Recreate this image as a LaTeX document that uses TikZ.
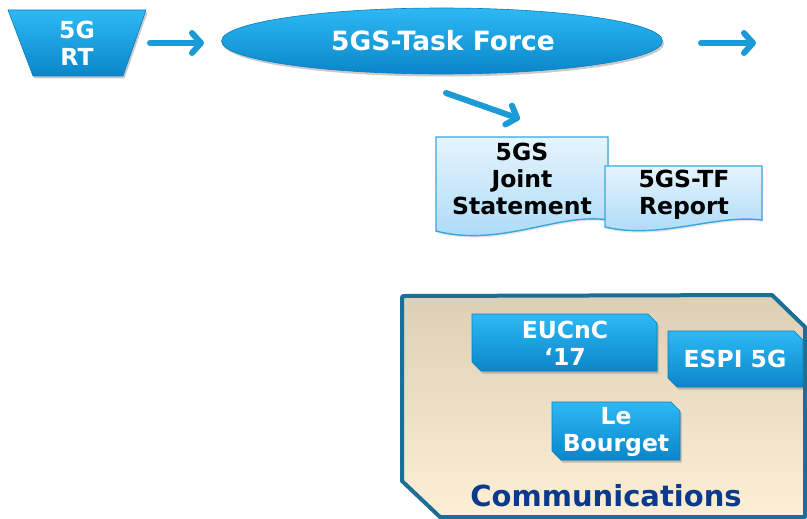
\documentclass[tikz,border=0pt]{standalone}
\usepackage{fontspec}
\setmainfont{DejaVu Sans}
\usetikzlibrary{arrows.meta,shadows,shapes.geometric}
\definecolor{arrowblue}{HTML}{1B9AD6}
\definecolor{btop}{HTML}{2DB9F4}
\definecolor{bbot}{HTML}{0A86CA}
\definecolor{bedge}{HTML}{0B7DBE}
\definecolor{dtop}{HTML}{E6F4FD}
\definecolor{dbot}{HTML}{A6D9F7}
\definecolor{dedge}{HTML}{3AA6E0}
\definecolor{ctop}{HTML}{DCCFB4}
\definecolor{cbot}{HTML}{FCEFD6}
\definecolor{cedge}{HTML}{1B6F96}
\definecolor{ctext}{HTML}{0B3A8C}
\begin{document}
\begin{tikzpicture}[x=1pt,y=-1pt,
  flow/.style={draw=arrowblue, line width=6pt, line cap=round,
    -{Straight Barb[length=9pt,width=20pt,round]}},
  bluefill/.style={top color=btop, bottom color=bbot, draw=bedge, line width=0.6pt,
    drop shadow={shadow xshift=1.5pt, shadow yshift=-2.5pt, opacity=0.35, fill=black!60}},
  docfill/.style={top color=dtop, bottom color=dbot, draw=dedge, line width=1.4pt,
    drop shadow={shadow xshift=1pt, shadow yshift=-2pt, opacity=0.2, fill=black!50}},
  wtext/.style={text=white, font=\bfseries\fontsize{23.5}{27}\selectfont, align=center, inner sep=0pt},
  btext/.style={text=black, font=\bfseries\fontsize{23.5}{27}\selectfont, align=center, inner sep=0pt},
]
\useasboundingbox (0,0) rectangle (807,519);

% 5G RT trapezoid
\path[bluefill] (8,10) -- (146,10) -- (123,76) -- (33,76) -- cycle;
\node[wtext] (rt) at (77,43) {5G\\RT};

% Task force ellipse
\node[ellipse, minimum width=441pt, minimum height=66pt, inner sep=0pt, bluefill] (tf) at (442,41) {};
\node[wtext, font=\bfseries\fontsize{26.5}{29}\selectfont] (tftext) at (443,41) {5GS-Task Force};

% arrows
\coordinate (a1s) at (150,43);
\coordinate (a1e) at (204,43);
\coordinate (a3s) at (701,43);
\coordinate (a3e) at (756,43);
\coordinate (a2s) at (446,93);
\coordinate (a2e) at (520,119);
\draw[flow] (a1s) -- (a1e);
\draw[flow] (a3s) -- (a3e);
\draw[flow] (a2s) -- (a2e);

% documents
\path[docfill] (436,137) -- (608,137) -- (608,220)
  .. controls (560,212) and (500,248) .. (436,231) -- cycle;
\node[btext] (js) at (522,179) {5GS\\Joint\\Statement};
\path[docfill] (605,166) -- (762,166) -- (762,220)
  .. controls (715,214) and (660,240) .. (605,227) -- cycle;
\node[btext] (rep) at (684,195) {5GS-TF\\Report};

% communications area
\path[top color=ctop, bottom color=cbot, draw=cedge, line width=4pt, line join=round]
  (402,299) .. controls (402,296) .. (405,296) -- (772,295) -- (805,327) -- (805,517)
  -- (440,517) -- (402,481) -- cycle;
\node[text=ctext, font=\bfseries\fontsize{29}{32}\selectfont, inner sep=0pt] (comm) at (606,496) {Communications};

\newcommand\bevbox[4]{%
  \path[bluefill] (#1,#2) -- (#3-9,#2) -- (#3,#2+9) -- (#3,#4) -- (#1+9,#4) -- (#1,#4-9) -- cycle;}
\bevbox{472}{314}{657}{371}
\node[wtext] (eucnc) at (565,343) {EUCnC\\‘17};
\bevbox{668}{331}{803}{387}
\node[wtext] (espi) at (735,359) {ESPI 5G};
\bevbox{552}{402}{680}{460}
\node[wtext] (lb) at (616,432) {Le\\Bourget};
\end{tikzpicture}
\end{document}
